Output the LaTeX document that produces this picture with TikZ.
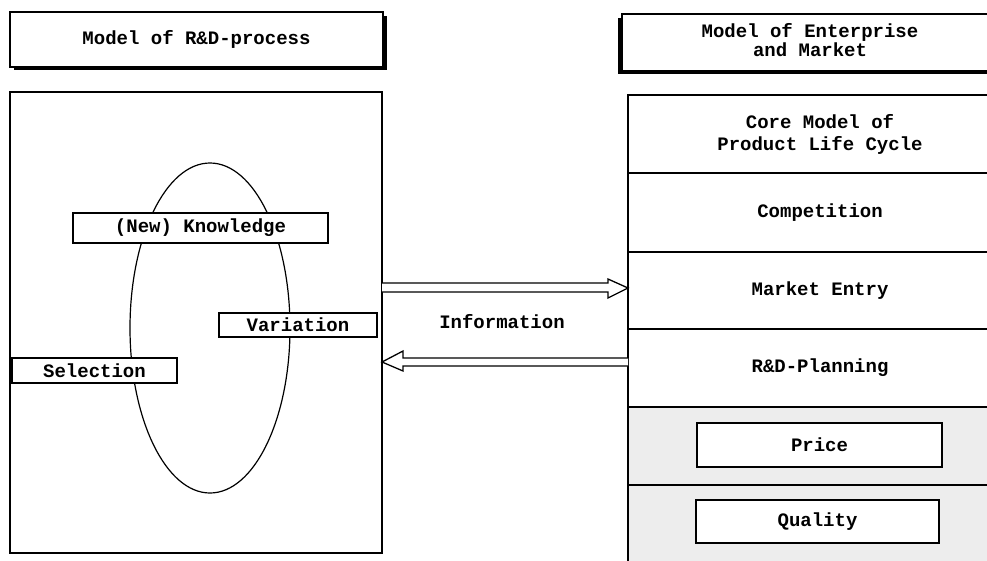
\documentclass[tikz,border=0pt]{standalone}
\usepackage{fontspec}
\newfontfamily\monob{Liberation Mono}
\begin{document}
\begin{tikzpicture}[x=1pt,y=-1pt,
  lbl/.style={font=\monob\bfseries\fontsize{19}{22}\selectfont, align=center},
  box/.style={draw, line width=1.2pt, fill=white, inner sep=0pt, outer sep=0pt, anchor=north west, lbl},
  shade/.style={box, fill=black!7},
  infoarrow/.style={draw, line width=1.3pt, fill=white, line join=miter}]
\useasboundingbox (0,0) rectangle (987,560);
\clip (0,0) rectangle (987,560);
% header left with shadow (lower right)
\fill (14,16) rectangle (387,70);
\node[box, minimum width=373pt, minimum height=55pt] (hl) at (10,12) {Model of R\&D-process};
% header right with shadow (lower left)
\fill (618,18) rectangle (1000,74);
\node[box, minimum width=378pt, minimum height=57pt] (hr) at (622,14) {};
\node[lbl, font=\monob\bfseries\fontsize{19}{15.5}\selectfont, inner sep=0pt] (hrt) at (810,40) {Model of Enterprise\\and Market};
% left model box
\node[box, minimum width=372pt, minimum height=461pt] (rd) at (10,92) {};
\draw[line width=1.2pt] (210,328) ellipse [x radius=80pt, y radius=165pt];
\node[box, minimum width=255pt, minimum height=30pt] (know) at (73,213) {(New) Knowledge};
\node[box, minimum width=158pt, minimum height=24pt] (var) at (219,313) {Variation};
\node[box, minimum width=165pt, minimum height=25pt] (sel) at (12,358) {Selection};
% right model sections
\node[box, minimum width=384pt, minimum height=78pt] (core) at (628,95) {Core Model of\\Product Life Cycle};
\node[box, minimum width=384pt, minimum height=79pt] (comp) at (628,173) {Competition};
\node[box, minimum width=384pt, minimum height=77pt] (entry) at (628,252) {Market Entry};
\node[box, minimum width=384pt, minimum height=78pt] (plan) at (628,329) {R\&D-Planning};
\node[shade, minimum width=384pt, minimum height=78pt] (sp) at (628,407) {};
\node[shade, minimum width=384pt, minimum height=90pt] (sq) at (628,485) {};
\node[box, minimum width=245pt, minimum height=44pt] (price) at (697,423) {Price};
\node[box, minimum width=243pt, minimum height=43pt] (qual) at (696,500) {Quality};
% information arrows
\coordinate (L) at (rd.east);
\coordinate (R) at (core.west);
\draw[infoarrow] (L |- 0,283) -- (608,283) -- (608,279) -- (R |- 0,288) -- (608,298) -- (608,292) -- (L |- 0,292);
\draw[infoarrow] (R |- 0,358) -- (403,358) -- (403,351) -- (L |- 0,362) -- (403,371) -- (403,366) -- (R |- 0,366);
\node[lbl] (info) at (502,322) {Information};
\end{tikzpicture}
\end{document}
